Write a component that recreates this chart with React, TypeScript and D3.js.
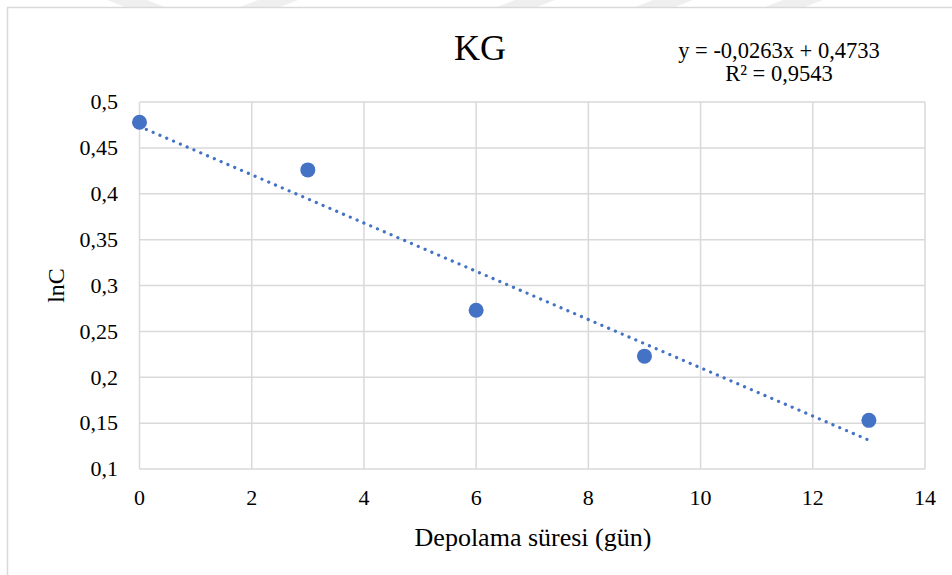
import * as d3 from 'd3';
import * as React from 'react';

const days = [0, 3, 6, 9, 13];
const lnC = [0.478, 0.426, 0.273, 0.223, 0.153];
const xTicks = [0, 2, 4, 6, 8, 10, 12, 14];
const yTicks = [0.1, 0.15, 0.2, 0.25, 0.3, 0.35, 0.4, 0.45, 0.5];
const slope = -0.0263;
const intercept = 0.4733;
const equation = ['y = -0,0263x + 0,4733', 'R² = 0,9543'];

// faint background marks at the very top of the scan
const marks: [number, number][] = [
  [107, 1],
  [240, -1],
  [497, -1],
  [635, -1],
  [765, -1],
];

const width = 952;
const height = 575;
const margin = { left: 139.5, right: 27, top: 102, bottom: 106 };
const serif = { fontFamily: "'Liberation Serif', 'Times New Roman', Times, serif" };
const blue = '#4472C4';

const fmt = (v: number) => String(+v.toFixed(2)).replace('.', ',');

export default function App() {
  const x = d3.scaleLinear().domain([0, 14]).range([margin.left, width - margin.right]);
  const y = d3.scaleLinear().domain([0.1, 0.5]).range([height - margin.bottom, margin.top]);

  const trend = d3
    .line<number>()
    .x((d) => x(d))
    .y((d) => y(intercept + slope * d))([0, d3.max(days) as number]);

  return (
    <svg
      width={width}
      height={height}
      style={{ position: 'absolute', left: 0, top: 0, background: '#fff' }}
    >
      {marks.map(([mx, dir], i) => (
        <polygon
          key={i}
          points={
            dir > 0
              ? `${mx},0 ${mx + 40},0 ${mx + 58},7 ${mx + 18},7`
              : `${mx + 18},0 ${mx + 58},0 ${mx + 40},7 ${mx},7`
          }
          fill="#efefef"
        />
      ))}
      <path d={`M7.5,${height} V7.5 H${width}`} fill="none" stroke="#d9d9d9" strokeWidth={1.5} />

      {yTicks.map((t) => (
        <g key={'y' + t}>
          <line x1={x(0)} x2={x(14)} y1={y(t)} y2={y(t)} stroke="#d9d9d9" strokeWidth={1.5} />
          <text x={118} y={y(t)} dy="0.33em" textAnchor="end" fontSize={22} style={serif}>
            {fmt(t)}
          </text>
        </g>
      ))}
      {xTicks.map((t) => (
        <g key={'x' + t}>
          <line x1={x(t)} x2={x(t)} y1={y(0.1)} y2={y(0.5)} stroke="#d9d9d9" strokeWidth={1.5} />
          <text x={x(t)} y={505} textAnchor="middle" fontSize={22} style={serif}>
            {t}
          </text>
        </g>
      ))}

      <path
        d={trend ?? ''}
        fill="none"
        stroke={blue}
        strokeWidth={3.2}
        strokeLinecap="round"
        strokeDasharray="0.1 7.3"
      />

      {days.map((d, i) => (
        <circle key={i} cx={x(d)} cy={y(lnC[i])} r={7.5} fill={blue} />
      ))}

      <text x={480} y={60} textAnchor="middle" fontSize={36} style={serif}>
        KG
      </text>
      {equation.map((s, i) => (
        <text key={i} x={779} y={58 + i * 23} textAnchor="middle" fontSize={22.5} style={serif}>
          {s}
        </text>
      ))}

      <text x={533} y={546} textAnchor="middle" fontSize={26} style={serif}>
        Depolama süresi (gün)
      </text>
      <text
        transform={`translate(64, ${y(0.3)}) rotate(-90)`}
        textAnchor="middle"
        fontSize={24}
        style={serif}
      >
        lnC
      </text>
    </svg>
  );
}
